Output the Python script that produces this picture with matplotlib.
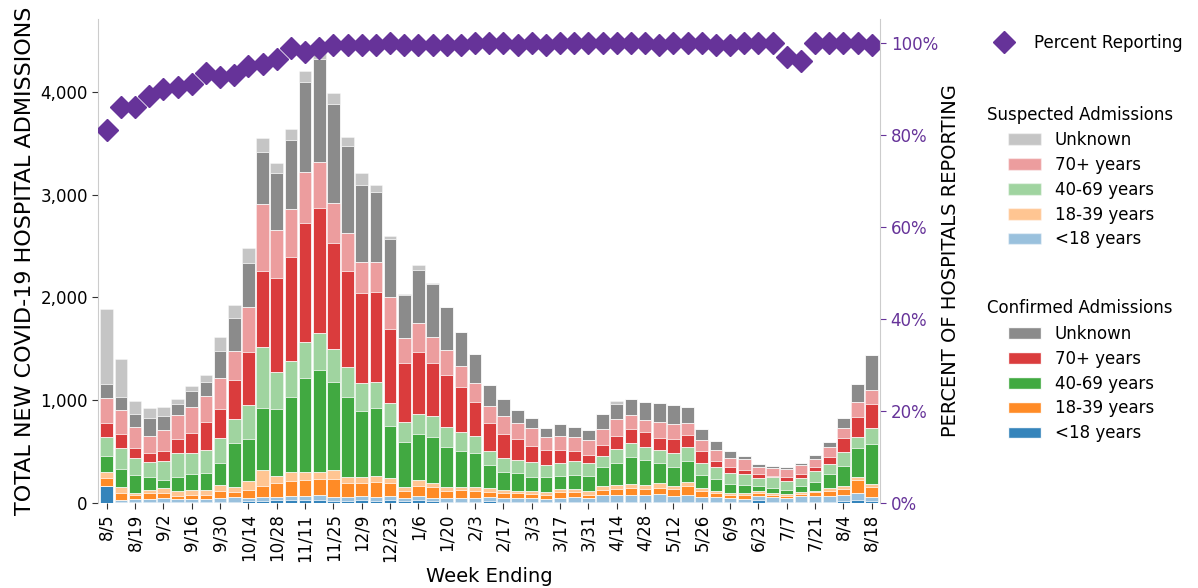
import matplotlib
matplotlib.use("Agg")
import matplotlib.pyplot as plt
import numpy as np
from matplotlib.patches import Patch
from matplotlib.lines import Line2D

weeks = ["8/5", "8/12", "8/19", "8/26", "9/2", "9/9", "9/16", "9/23", "9/30", "10/7",
         "10/14", "10/21", "10/28", "11/4", "11/11", "11/18", "11/25", "12/2", "12/9", "12/16",
         "12/23", "12/30", "1/6", "1/13", "1/20", "1/27", "2/3", "2/10", "2/17", "2/24",
         "3/3", "3/10", "3/17", "3/24", "3/31", "4/7", "4/14", "4/21", "4/28", "5/5",
         "5/12", "5/19", "5/26", "6/2", "6/9", "6/16", "6/23", "6/30", "7/7", "7/14",
         "7/21", "7/28", "8/4", "8/11", "8/18"]

# confirmed admissions by age group
conf_u18 = [169, 8, 8, 8, 8, 8, 8, 8, 10, 12, 15, 20, 25, 30, 30, 30, 20, 18, 25, 20,
            25, 15, 25, 15, 12, 10, 10, 20, 10, 10, 10, 8, 10, 10, 8, 10, 10, 10, 8, 10,
            10, 8, 8, 8, 8, 8, 25, 10, 8, 10, 10, 10, 15, 30, 20]
conf_18_39 = [71, 72, 39, 55, 56, 32, 39, 42, 72, 49, 75, 114, 136, 146, 153, 152, 175, 136, 123, 153,
              130, 75, 94, 100, 75, 82, 75, 55, 55, 49, 43, 39, 58, 42, 33, 52, 58, 65, 55, 65,
              62, 91, 58, 46, 36, 36, 33, 20, 19, 17, 33, 46, 58, 130, 97]
conf_40_69 = [155, 178, 178, 129, 81, 130, 155, 168, 218, 434, 409, 604, 655, 730, 908, 989, 853, 778, 639, 665,
              509, 431, 444, 448, 396, 347, 332, 227, 178, 169, 142, 152, 127, 139, 143, 184, 217, 259, 243, 195,
              188, 211, 123, 110, 81, 81, 49, 55, 39, 65, 84, 130, 198, 282, 389]
conf_70p = [137, 136, 97, 91, 94, 143, 195, 275, 276, 383, 515, 743, 912, 1012, 1158, 1217, 1031, 934, 882, 883,
            720, 574, 604, 516, 499, 444, 331, 267, 237, 202, 159, 146, 124, 97, 81, 104, 123, 130, 140, 120,
            130, 114, 114, 65, 64, 39, 32, 16, 39, 32, 39, 75, 136, 189, 227]
conf_unk = [139, 123, 120, 176, 137, 104, 159, 133, 263, 314, 428, 512, 558, 672, 879, 1000, 967, 843, 753, 688,
            558, 412, 519, 520, 415, 328, 285, 201, 162, 123, 97, 82, 117, 90, 97, 140, 146, 156, 178, 185,
            185, 161, 107, 87, 68, 29, 22, 16, 20, 23, 36, 42, 91, 172, 337]

# suspected admissions by age group
susp_u18 = [0, 21, 31, 31, 37, 28, 28, 28, 35, 43, 37, 35, 30, 38, 41, 48, 35, 37, 43, 35,
            43, 30, 46, 37, 33, 35, 35, 35, 35, 35, 35, 31, 42, 52, 37, 65, 68, 68, 70, 74,
            61, 70, 54, 47, 37, 31, 43, 45, 41, 61, 61, 61, 63, 64, 42]
susp_18_39 = [65, 52, 16, 33, 42, 52, 52, 49, 58, 49, 90, 152, 72, 91, 81, 75, 91, 59, 65, 55,
              42, 39, 59, 46, 32, 32, 32, 33, 27, 26, 26, 26, 26, 29, 42, 42, 39, 42, 42, 42,
              32, 32, 29, 19, 20, 19, 19, 19, 20, 16, 16, 32, 29, 26, 26]
susp_40_69 = [185, 201, 163, 143, 185, 233, 201, 221, 243, 227, 325, 590, 360, 350, 357, 357, 322, 299, 270, 246,
              221, 195, 198, 204, 195, 182, 171, 139, 130, 129, 140, 114, 129, 140, 123, 104, 137, 143, 130, 130,
              137, 136, 120, 117, 107, 107, 78, 101, 90, 78, 111, 97, 137, 113, 159]
susp_70p = [237, 237, 211, 165, 207, 230, 253, 250, 308, 286, 445, 649, 467, 464, 493, 454, 389, 370, 295, 285,
            318, 250, 279, 246, 247, 201, 179, 171, 178, 162, 178, 129, 136, 137, 146, 162, 162, 139, 120, 149,
            146, 114, 107, 104, 82, 107, 75, 78, 78, 91, 74, 97, 97, 152, 140]
susp_unk = [727, 370, 133, 90, 87, 49, 52, 72, 129, 130, 140, 130, 97, 110, 104, 68, 110, 91, 113, 62,
            33, 10, 48, 12, 5, 0, 0, 0, 0, 0, 0, 0, 0, 0, 0, 0, 36, 0, 0, 0,
            0, 0, 0, 0, 0, 0, 0, 0, 0, 0, 0, 0, 0, 0, 0]

pct_reporting = [81, 86, 86, 88.5, 90, 90.5, 91, 93.5, 92.5, 93, 95, 95.5, 96.5, 99, 98, 99, 99.5, 99.5, 99.5, 99.5,
                 100, 99.5, 99.5, 99.5, 99.5, 99.5, 100, 100, 100, 99.5, 100, 99.5, 100, 100, 100, 100, 100, 100, 100, 99.5,
                 100, 100, 100, 99.5, 99.5, 100, 100, 100, 97, 96, 100, 100, 100, 100, 99.5]

age_labels = ["<18 years", "18-39 years", "40-69 years", "70+ years", "Unknown"]
base_colors = ["#1f77b4", "#ff7f0e", "#2ca02c", "#d62728", "#7f7f7f"]
purple = "#663399"

conf = [conf_u18, conf_18_39, conf_40_69, conf_70p, conf_unk]
susp = [susp_u18, susp_18_39, susp_40_69, susp_70p, susp_unk]

fig = plt.figure(figsize=(11.98, 5.88), dpi=100)
ax = fig.add_axes([0.082, 0.1446, 0.6528, 0.8231])

x = np.arange(len(weeks))
bottom = np.zeros(len(weeks))
for c_vals, s_vals, col in zip(conf, susp, base_colors):
    ax.bar(x, c_vals, width=0.9, bottom=bottom, color=col, alpha=0.9, edgecolor="white", linewidth=0.6)
    bottom += np.array(c_vals)
    ax.bar(x, s_vals, width=0.9, bottom=bottom, color=col, alpha=0.45, edgecolor="white", linewidth=0.6)
    bottom += np.array(s_vals)

ax.set_xlim(-0.6, len(weeks) - 0.4)
ax.set_ylim(0, 4710)
ax.set_xticks(x[::2])
ax.set_xticklabels(weeks[::2], rotation=90, fontsize=12)
ax.set_yticks([0, 1000, 2000, 3000, 4000])
ax.set_yticklabels(["0", "1,000", "2,000", "3,000", "4,000"], fontsize=12)
ax.tick_params(axis="y", colors="#333333", length=4)
ax.tick_params(axis="y", labelcolor="black")
ax.tick_params(axis="x", length=4, color="#333333")
for s in ["top", "bottom", "right"]:
    ax.spines[s].set_visible(False)
ax.spines["left"].set_color("#cccccc")
ax.set_ylabel("TOTAL NEW COVID-19 HOSPITAL ADMISSIONS", fontsize=16)
ax.set_xlabel("Week Ending", fontsize=14)

ax2 = ax.twinx()
ax2.plot(x, pct_reporting, linestyle="none", marker="D", markersize=11, color=purple)
ax2.set_ylim(0, 105.2)
ax2.set_yticks([0, 20, 40, 60, 80, 100])
ax2.set_yticklabels(["0%", "20%", "40%", "60%", "80%", "100%"], fontsize=12)
ax2.tick_params(axis="y", colors=purple, length=4)
for s in ["top", "bottom", "left"]:
    ax2.spines[s].set_visible(False)
ax2.spines["right"].set_color("#cccccc")
ax2.set_ylabel("PERCENT OF HOSPITALS REPORTING", fontsize=14, labelpad=2)

# legends
pct_handle = [Line2D([0], [0], linestyle="none", marker="D", markersize=11, color=purple)]
fig.legend(pct_handle, ["Percent Reporting"], loc="upper left", bbox_to_anchor=(0.824, 0.9422),
           frameon=False, fontsize=12, borderpad=0, borderaxespad=0, numpoints=1)

susp_handles = [Patch(facecolor=c, alpha=0.45, edgecolor="white") for c in base_colors[::-1]]
conf_handles = [Patch(facecolor=c, alpha=0.9, edgecolor="white") for c in base_colors[::-1]]

fig.text(0.824, 0.8044, "Suspected Admissions", fontsize=12, va="center", ha="left")
fig.legend(susp_handles, age_labels[::-1], loc="upper left", bbox_to_anchor=(0.8414, 0.7772),
           frameon=False, fontsize=12, borderpad=0, borderaxespad=0, labelspacing=0.41)

fig.text(0.824, 0.4762, "Confirmed Admissions", fontsize=12, va="center", ha="left")
fig.legend(conf_handles, age_labels[::-1], loc="upper left", bbox_to_anchor=(0.8414, 0.4473),
           frameon=False, fontsize=12, borderpad=0, borderaxespad=0, labelspacing=0.41)

fig.savefig("out.png", dpi=100)
